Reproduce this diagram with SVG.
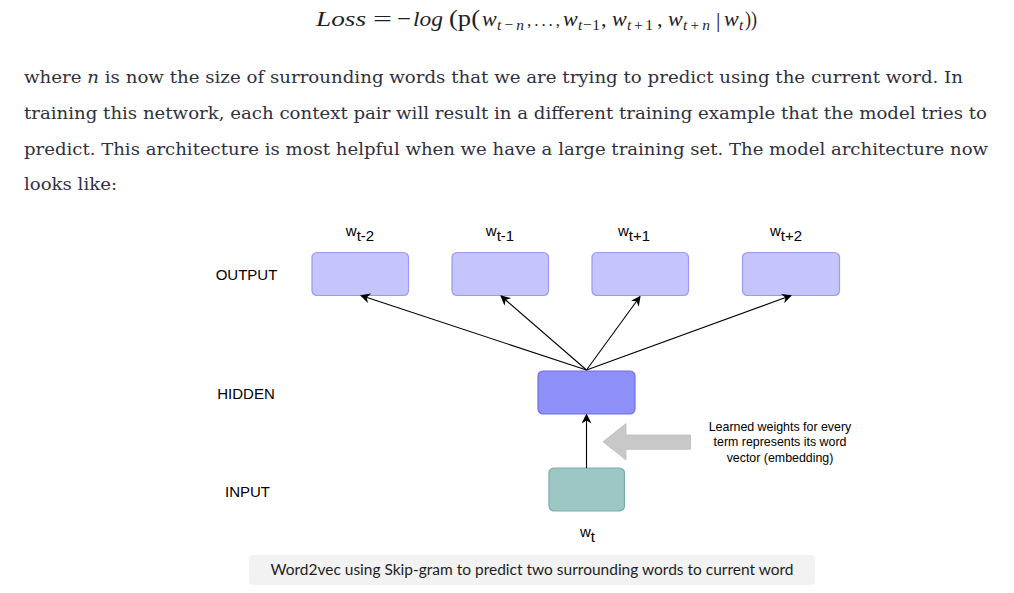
<svg xmlns="http://www.w3.org/2000/svg" width="1014" height="593" viewBox="0 0 1014 593">
<defs>
<style>
.math{font-family:"Liberation Serif","DejaVu Serif",serif;fill:#1e1e28;font-size:22px;}
.mi{font-style:italic;}
.sub{font-size:15.5px;}
.para{font-family:"DejaVu Serif","Liberation Serif",serif;font-size:17.5px;fill:#2f3040;}
.lbl{font-family:"Liberation Sans",Arial,sans-serif;font-size:15px;fill:#000;}
.note{font-family:"Liberation Sans",Arial,sans-serif;font-size:12.4px;fill:#000;}
.outbox{fill:#c5c5fb;stroke:#9a9af5;stroke-width:1.2;}
.hidbox{fill:#8f8ff8;stroke:#6f6fef;stroke-width:1.2;}
.inbox{fill:#9dc7c5;stroke:#7aaba8;stroke-width:1.2;}
.conn{stroke:#000;stroke-width:1.1;fill:none;marker-end:url(#ah);}
.cap{font-family:Lato,"Open Sans",sans-serif;font-size:14.5px;fill:#1e1e1e;}
</style>
<marker id="ah" viewBox="0 0 10 10" refX="9" refY="5" markerWidth="10" markerHeight="10" markerUnits="userSpaceOnUse" orient="auto">
<path d="M0,0 L10,5 L0,10 L3,5 Z" fill="#000"/>
</marker>
</defs>
<rect width="1014" height="593" fill="#fff"/>

<g id="formula" class="math">
<text x="316" y="26" class="mi" textLength="50" lengthAdjust="spacingAndGlyphs">Loss</text>
<text x="373" y="26" textLength="19" lengthAdjust="spacingAndGlyphs">=</text>
<text x="397" y="26" textLength="14" lengthAdjust="spacingAndGlyphs">−</text>
<text x="413" y="26" class="mi" textLength="30" lengthAdjust="spacingAndGlyphs">log</text>
<text x="449" y="26" font-size="23.5" textLength="31" lengthAdjust="spacingAndGlyphs">(p(</text>
<text x="482" y="26" class="mi">w</text>
<text x="497" y="30" class="sub" textLength="27" lengthAdjust="spacing"><tspan class="mi">t</tspan>−<tspan class="mi">n</tspan></text>
<text x="527" y="26" font-size="17" textLength="33" lengthAdjust="spacing">,...,</text>
<text x="563" y="26" class="mi">w</text>
<text x="578" y="30" class="sub" textLength="22" lengthAdjust="spacing"><tspan class="mi">t</tspan>−1</text>
<text x="601" y="26">,</text>
<text x="612" y="26" class="mi">w</text>
<text x="627" y="30" class="sub" textLength="26" lengthAdjust="spacing"><tspan class="mi">t</tspan>+1</text>
<text x="657" y="26">,</text>
<text x="668" y="26" class="mi">w</text>
<text x="683" y="30" class="sub" textLength="27" lengthAdjust="spacing"><tspan class="mi">t</tspan>+<tspan class="mi">n</tspan></text>
<text x="716" y="27">|</text>
<text x="724" y="26" class="mi">w</text>
<text x="739" y="30" class="sub mi">t</text>
<text x="745" y="26" textLength="12" lengthAdjust="spacingAndGlyphs">))</text>
</g>

<g id="paragraph" class="para">
<text x="24" y="83" textLength="939" lengthAdjust="spacingAndGlyphs">where <tspan font-style="italic">n</tspan> is now the size of surrounding words that we are trying to predict using the current word. In</text>
<text x="24" y="119" textLength="963" lengthAdjust="spacingAndGlyphs">training this network, each context pair will result in a different training example that the model tries to</text>
<text x="24" y="155" textLength="964" lengthAdjust="spacingAndGlyphs">predict. This architecture is most helpful when we have a large training set. The model architecture now</text>
<text x="24" y="190" textLength="93" lengthAdjust="spacingAndGlyphs">looks like:</text>
</g>

<g id="layer-labels" class="lbl">
<text x="246.5" y="280" text-anchor="middle">OUTPUT</text>
<text x="246" y="399" text-anchor="middle">HIDDEN</text>
<text x="247.5" y="496.5" text-anchor="middle">INPUT</text>
</g>

<g id="out-wt-2">
<rect class="outbox" x="312" y="252.5" width="96.5" height="43" rx="5"/>
<text class="lbl" x="360" y="236" text-anchor="middle">w<tspan dy="5">t-2</tspan></text>
</g>
<g id="out-wt-1">
<rect class="outbox" x="452" y="252.5" width="96.5" height="43" rx="5"/>
<text class="lbl" x="500" y="236" text-anchor="middle">w<tspan dy="5">t-1</tspan></text>
</g>
<g id="out-wt+1">
<rect class="outbox" x="592" y="252.5" width="96.5" height="43" rx="5"/>
<text class="lbl" x="634" y="236" text-anchor="middle">w<tspan dy="5">t+1</tspan></text>
</g>
<g id="out-wt+2">
<rect class="outbox" x="742.5" y="252.5" width="97" height="43" rx="5"/>
<text class="lbl" x="786" y="236" text-anchor="middle">w<tspan dy="5">t+2</tspan></text>
</g>

<g id="hidden">
<rect class="hidbox" x="538" y="371" width="97" height="43" rx="5"/>
</g>

<g id="input">
<rect class="inbox" x="549" y="468" width="75.5" height="43" rx="5"/>
<text class="lbl" x="587.5" y="537" text-anchor="middle">w<tspan dy="5">t</tspan></text>
</g>

<g id="connectors">
<line class="conn" x1="586.5" y1="370" x2="361" y2="295.5"/>
<line class="conn" x1="586.5" y1="370" x2="501" y2="296"/>
<line class="conn" x1="586.5" y1="370" x2="640" y2="296.5"/>
<line class="conn" x1="586.5" y1="370" x2="791" y2="295.5"/>
<line class="conn" x1="586.5" y1="468" x2="586.5" y2="414.5"/>
</g>

<g id="embedding-note">
<polygon points="690.5,435 626,435 626,423.5 603,441.8 626,460 626,449.3 690.5,449.3" fill="#c8c8c8" stroke="#bdbdbd" stroke-width="0.8"/>
<text class="note" x="780" y="431" text-anchor="middle">Learned weights for every</text>
<text class="note" x="780" y="446" text-anchor="middle">term represents its word</text>
<text class="note" x="780" y="461.5" text-anchor="middle">vector (embedding)</text>
</g>

<g id="caption">
<rect x="249" y="555" width="566" height="30" rx="4" fill="#f2f2f2"/>
<text class="cap" x="532" y="574.5" text-anchor="middle" textLength="523" lengthAdjust="spacingAndGlyphs">Word2vec using Skip-gram to predict two surrounding words to current word</text>
</g>
</svg>
